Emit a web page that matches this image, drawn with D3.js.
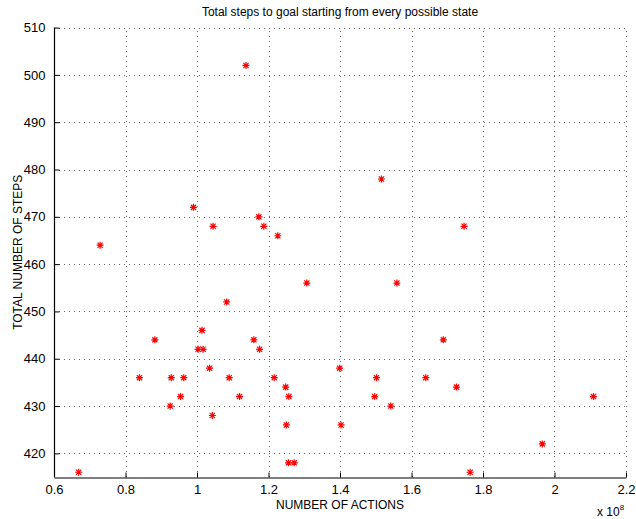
<!DOCTYPE html>
<html>
<head>
<meta charset="utf-8">
<script src="https://cdn.jsdelivr.net/npm/d3@7"></script>
<style>
  body { margin: 0; background: #fff; }
  svg text { font-family: "Liberation Sans", Arial, sans-serif; fill: #000; }
</style>
</head>
<body>
<div id="chart"></div>
<script>
// number of actions (x 10^8) and total steps for every start state
const actions = [
  0.669, 0.729, 0.839, 0.882, 0.925, 0.928, 0.954, 0.963, 0.990, 1.003,
  1.017, 1.014, 1.035, 1.043, 1.045, 1.083, 1.090, 1.119, 1.137, 1.159,
  1.173, 1.175, 1.187, 1.226, 1.216, 1.248, 1.250, 1.257, 1.256, 1.272,
  1.307, 1.399, 1.403, 1.497, 1.502, 1.516, 1.542, 1.559, 1.640, 1.689,
  1.726, 1.747, 1.764, 1.966, 2.109
];
const steps = [
  416, 464, 436, 444, 430, 436, 432, 436, 472, 442,
  442, 446, 438, 428, 468, 452, 436, 432, 502, 444,
  470, 442, 468, 466, 436, 434, 426, 432, 418, 418,
  456, 438, 426, 432, 436, 478, 430, 456, 436, 444,
  434, 468, 416, 422, 432
];
const xTicks = [0.6, 0.8, 1, 1.2, 1.4, 1.6, 1.8, 2, 2.2];
const yTicks = [420, 430, 440, 450, 460, 470, 480, 490, 500, 510];

const width = 636, height = 519;
const margin = { top: 27.6, right: 10, bottom: 42, left: 54 };

const svg = d3.select("#chart").append("svg")
  .attr("width", width)
  .attr("height", height);

const x = d3.scaleLinear().domain([0.6, 2.2]).range([margin.left, width - margin.right]);
const y = d3.scaleLinear().domain([415, 510]).range([height - margin.bottom, margin.top]);

// 网格线
const grid = svg.append("g").attr("stroke", "#666").attr("stroke-width", 1)
  .attr("stroke-dasharray", "1,4");
grid.selectAll("line.gx").data(xTicks.slice(1)).join("line")
  .attr("x1", d => Math.round(x(d)) + 0.5).attr("x2", d => Math.round(x(d)) + 0.5)
  .attr("y1", y(415)).attr("y2", y(510));
grid.selectAll("line.gy").data(yTicks).join("line")
  .attr("y1", d => Math.round(y(d)) + 0.5).attr("y2", d => Math.round(y(d)) + 0.5)
  .attr("x1", x(0.6)).attr("x2", x(2.2));

// 坐标轴
const xAxis = svg.append("g")
  .attr("transform", `translate(0,${Math.round(y(415)) + 0.5})`)
  .call(d3.axisBottom(x).tickValues(xTicks).tickFormat(d3.format("~g")).tickSizeInner(-5).tickSizeOuter(0).tickPadding(7));
const yAxis = svg.append("g")
  .attr("transform", `translate(${Math.round(x(0.6)) + 0.5},0)`)
  .call(d3.axisLeft(y).tickValues(yTicks).tickSizeInner(-5).tickSizeOuter(0).tickPadding(9));

[xAxis, yAxis].forEach(a => {
  a.select(".domain").attr("stroke", "#000").attr("stroke-width", 1.2);
  a.selectAll(".tick line").attr("stroke", "#000");
  a.selectAll(".tick text").attr("font-size", 13).attr("font-family", "Liberation Sans, Arial, sans-serif");
});
yAxis.select(".domain").attr("d", `M0,${y(415)}V${y(510)}`);

// 星号标记
const star = "M-3.5,0H3.5M0,-3.5V3.5M-2.6,-2.6L2.6,2.6M-2.6,2.6L2.6,-2.6";
svg.append("g").selectAll("path").data(actions).join("path")
  .attr("transform", (d, i) => `translate(${x(d)},${y(steps[i])})`)
  .attr("d", star)
  .attr("stroke", "#ff0000")
  .attr("stroke-width", 1.2)
  .attr("fill", "none");

// 标题和轴标签
svg.append("text")
  .attr("x", (x(0.6) + x(2.2)) / 2).attr("y", 16)
  .attr("text-anchor", "middle").attr("font-size", 12)
  .text("Total steps to goal starting from every possible state");

svg.append("text")
  .attr("x", (x(0.6) + x(2.2)) / 2).attr("y", 509)
  .attr("text-anchor", "middle").attr("font-size", 12)
  .text("NUMBER OF ACTIONS");

svg.append("text")
  .attr("transform", `translate(22,${(y(415) + y(510)) / 2}) rotate(-90)`)
  .attr("text-anchor", "middle").attr("font-size", 12)
  .text("TOTAL NUMBER OF STEPS");

const mult = svg.append("text").attr("x", 597).attr("y", 516).attr("font-size", 12);
mult.append("tspan").text("x 10");
mult.append("tspan").attr("dy", -6).attr("font-size", 8).text("8");
</script>
</body>
</html>
